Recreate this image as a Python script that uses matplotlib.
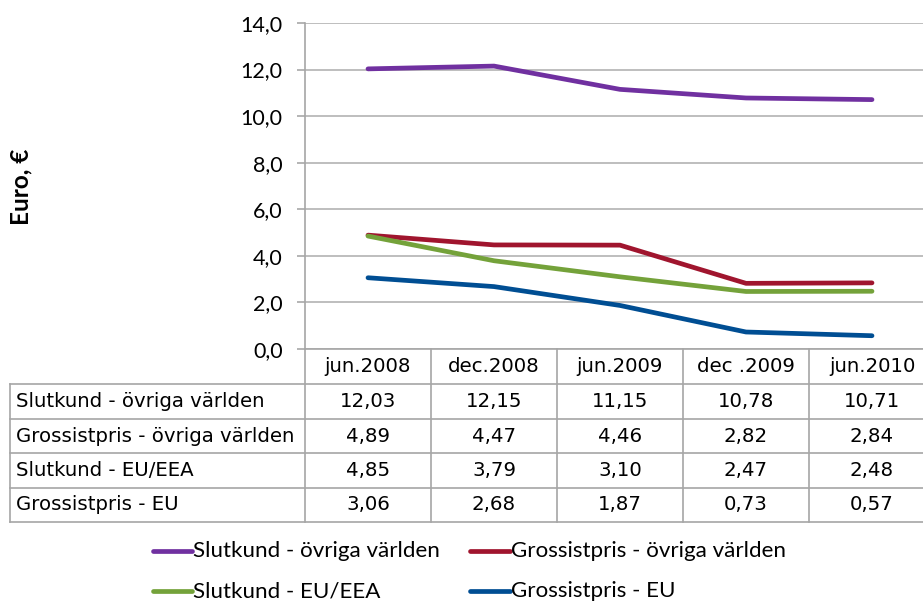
import matplotlib
matplotlib.use("Agg")
import matplotlib.pyplot as plt
from matplotlib.lines import Line2D
import matplotlib.transforms as mtransforms

categories = ["jun.2008", "dec.2008", "jun.2009", "dec .2009", "jun.2010"]
series_names = ["Slutkund - övriga världen", "Grossistpris - övriga världen",
                "Slutkund - EU/EEA", "Grossistpris - EU"]
slutkund_ovriga = [12.03, 12.15, 11.15, 10.78, 10.71]
grossist_ovriga = [4.89, 4.47, 4.46, 2.82, 2.84]
slutkund_eu = [4.85, 3.79, 3.10, 2.47, 2.48]
grossist_eu = [3.06, 2.68, 1.87, 0.73, 0.57]
series_values = [slutkund_ovriga, grossist_ovriga, slutkund_eu, grossist_eu]
colors = ["#7030A0", "#A0152E", "#74A23A", "#004E93"]
yticks = [0, 2, 4, 6, 8, 10, 12, 14]
ylabel = "Euro, €"

W, H = 923, 602
fig = plt.figure(figsize=(W / 100, H / 100), dpi=100)

def fx(px):
    return px / W

def fy(py):
    return 1 - py / H

ax_l, ax_r, ax_t, ax_b = 305, 935, 23, 349
ax = fig.add_axes([fx(ax_l), fy(ax_b), (ax_r - ax_l) / W, (ax_b - ax_t) / H])

x = list(range(len(categories)))
for vals, c, name in zip(series_values, colors, series_names):
    ax.plot(x, vals, color=c, lw=3.4, solid_capstyle="round", label=name, zorder=3)

ax.set_xlim(-0.5, len(categories) - 0.5)
ax.set_ylim(0, 14)
ax.set_yticks(yticks)
ax.set_yticklabels([f"{v:.1f}".replace(".", ",") for v in yticks],
                   fontfamily="Lato", fontsize=15.5, color="#000000")
ax.tick_params(axis="y", direction="out", length=5.5, width=1.1, color="#A0A0A0", pad=10.5)
ax.set_xticks([])
ax.grid(axis="y", color="#B3B3B3", lw=1.2, zorder=0)
for s in ["top", "right"]:
    ax.spines[s].set_visible(False)
for s in ["left", "bottom"]:
    ax.spines[s].set_color("#A6A6A6")
    ax.spines[s].set_linewidth(1.2)

# Data table below the axes
lc = "#A6A6A6"
lw_t = 1.2
def ay(py):
    return (ax_b - py) / (ax_b - ax_t)
def axx(px):
    return (px - ax_l) / (ax_r - ax_l)

row_edges = [349, 384, 419, 453, 488, 522]
blend = mtransforms.blended_transform_factory(ax.transData, ax.transAxes)
for i in range(len(categories) + 1):
    ax.add_line(Line2D([i - 0.5, i - 0.5], [ay(row_edges[0]), ay(row_edges[-1])],
                       transform=blend, color=lc, lw=lw_t, clip_on=False))
for r in row_edges[1:]:
    ax.add_line(Line2D([axx(10), 1], [ay(r), ay(r)], transform=ax.transAxes,
                       color=lc, lw=lw_t, clip_on=False))
ax.add_line(Line2D([axx(10), axx(10)], [ay(row_edges[1]), ay(row_edges[-1])],
                   transform=ax.transAxes, color=lc, lw=lw_t, clip_on=False))

tfont = dict(fontfamily="DejaVu Sans", fontsize=14.2, color="#000000")
ymid0 = ay((row_edges[0] + row_edges[1]) / 2)
for i, cat in enumerate(categories):
    ax.text(i, ymid0, cat, transform=blend, ha="center", va="center", clip_on=False, **tfont)
for r, (name, vals) in enumerate(zip(series_names, series_values)):
    ym = ay((row_edges[r + 1] + row_edges[r + 2]) / 2)
    ax.text(axx(16), ym, name, transform=ax.transAxes, ha="left", va="center",
            clip_on=False, **tfont)
    for i, v in enumerate(vals):
        ax.text(i, ym, f"{v:.2f}".replace(".", ","), transform=blend, ha="center",
                va="center", clip_on=False, **tfont)

# Y label
fig.text(fx(21), fy(187), ylabel, rotation=90, ha="center", va="center",
         fontfamily="Lato", fontweight="bold", fontsize=17.5)

# Legend (manual layout)
leg_pos = [(153, 192, 551), (470, 510, 551), (153, 192, 591), (470, 510, 591)]
for (x0, x1, yy), c, name in zip(leg_pos, colors, series_names):
    fig.add_artist(Line2D([fx(x0), fx(x1)], [fy(yy), fy(yy)], color=c, lw=3.4,
                          solid_capstyle="round", transform=fig.transFigure))
    fig.text(fx(x1 + 1), fy(yy), name, ha="left", va="center",
             fontfamily="Lato", fontsize=16.1, color="#000000")

fig.savefig("out.png", dpi=100)
